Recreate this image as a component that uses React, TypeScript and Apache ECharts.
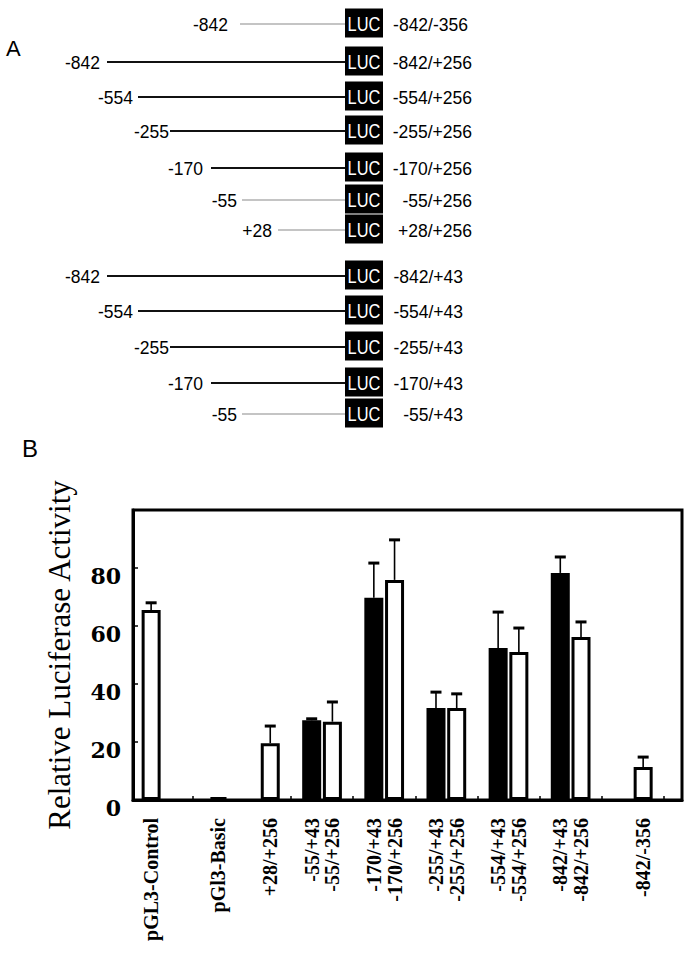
import React, { useEffect, useRef } from 'react';
import * as echarts from 'echarts';

// ---------- Panel A: constructs ----------
const constructStarts = ['-842', '-842', '-554', '-255', '-170', '-55', '+28', '-842', '-554', '-255', '-170', '-55'];
const constructNames = ['-842/-356', '-842/+256', '-554/+256', '-255/+256', '-170/+256', '-55/+256', '+28/+256', '-842/+43', '-554/+43', '-255/+43', '-170/+43', '-55/+43'];
const constructThin = [true, false, false, false, false, true, true, false, false, false, false, true];

// ---------- Panel B: luciferase activity ----------
const barLabels = ['pGL3-Control', 'pGl3-Basic', '+28/+256', '-55/+43', '-55/+256', '-170/+43', '-170/+256', '-255/+43', '-255/+256', '-554/+43', '-554/+256', '-842/+43', '-842/+256', '-842/-356'];
const barValues = [65.5, 1, 19.6, 27.5, 27, 69.7, 75.9, 31.7, 31.7, 52.4, 51, 78.3, 56.2, 11.4];
const barErrors = [2.5, 0, 5.9, 0.5, 6.8, 12, 13.8, 5.5, 4.9, 12.4, 8.3, 5.5, 5.2, 3.4];
const barFilled = [false, false, false, true, false, true, false, true, false, true, false, true, false, false];
const yTickLabels = ['0', '20', '40', '60', '80'];
const yTitle = 'Relative Luciferase Activity';

// ---------- layout (not data) ----------
const N_SLOTS = 106;
const barSlots = [3, 16, 26, 34, 38, 46, 50, 58, 62, 70, 74, 82, 86, 98];
const tickSlots = [11, 30, 42, 54, 66, 78, 90, 102];

const rowLineY = [24, 62, 97, 131, 168, 200, 230, 276, 311, 347, 383, 414];
const rowLineStart = [240, 107, 138, 170, 211, 242, 278, 107, 138, 170, 211, 242];
const rowLabelRight = [228, 100, 133, 169, 203, 237, 272, 100, 133, 169, 203, 237];
const rowNameRight = [468, 472, 472, 472, 472, 472, 472, 463, 463, 463, 463, 463];
const BOX_LEFT = 345;
const BOX_W = 38;
const BOX_H = 29;

function buildGraphic(): any[] {
  const els: any[] = [];
  const sans = 'Liberation Sans, Arial, sans-serif';
  els.push({
    type: 'text', left: 6, top: 37,
    style: { text: 'A', fontSize: 22, fontFamily: sans, fill: '#000' },
  });
  els.push({
    type: 'text', left: 22, top: 436,
    style: { text: 'B', fontSize: 24, fontFamily: sans, fill: '#000' },
  });
  constructNames.forEach((name, i) => {
    const y = rowLineY[i];
    const thin = constructThin[i];
    els.push({
      type: 'line',
      shape: { x1: rowLineStart[i], y1: y, x2: BOX_LEFT, y2: y },
      style: { stroke: thin ? '#b0b0b0' : '#111', lineWidth: thin ? 1.3 : 2.2 },
    });
    els.push({
      type: 'rect',
      shape: { x: BOX_LEFT, y: y - 1 - BOX_H / 2, width: BOX_W, height: BOX_H },
      style: { fill: '#000' },
    });
    els.push({
      type: 'text', x: BOX_LEFT + BOX_W / 2, y: y, scaleX: 0.78,
      style: {
        text: 'LUC', x: 0, y: 0, align: 'center', verticalAlign: 'middle',
        fontSize: 21, fontFamily: sans, fill: '#fff',
      },
    });
    els.push({
      type: 'text', x: rowLabelRight[i], y: y + 1,
      style: {
        text: constructStarts[i], align: 'right', verticalAlign: 'middle',
        fontSize: 17.5, fontFamily: sans, fill: '#000',
      },
    });
    els.push({
      type: 'text', x: rowNameRight[i], y: y + 1,
      style: {
        text: name, align: 'right', verticalAlign: 'middle',
        fontSize: 17.5, fontFamily: sans, fill: '#000',
      },
    });
  });
  return els;
}

function buildOption(): any {
  const categories = Array.from({ length: N_SLOTS }, (_, i) => {
    const j = barSlots.indexOf(i);
    return j >= 0 ? barLabels[j] : `_${i}`;
  });
  const blackData: any[] = Array(N_SLOTS).fill('-');
  const whiteData: any[] = Array(N_SLOTS).fill('-');
  barSlots.forEach((s, i) => {
    if (barFilled[i]) blackData[s] = barValues[i];
    else whiteData[s] = barValues[i];
  });
  const errData = barSlots.map((s, i) => [s, barValues[i], barErrors[i]]);

  return {
    animation: false,
    backgroundColor: '#fff',
    graphic: buildGraphic(),
    grid: {
      left: 133, top: 510, width: 549, height: 290,
      show: true, borderColor: '#000', borderWidth: 3, backgroundColor: 'transparent',
    },
    xAxis: {
      type: 'category',
      data: categories,
      axisLine: { show: true, lineStyle: { color: '#000', width: 3 } },
      axisTick: {
        show: true, inside: true, length: 4, alignWithLabel: true,
        interval: (idx: number) => tickSlots.includes(idx),
        lineStyle: { color: '#000', width: 1.5 },
      },
      axisLabel: {
        interval: (idx: number) => barSlots.includes(idx),
        rotate: 90, margin: 18,
        fontFamily: 'Liberation Serif, Times New Roman, serif',
        fontWeight: 'bold', fontSize: 20, color: '#000',
      },
      splitLine: { show: false },
    },
    yAxis: {
      type: 'value', min: 0, max: 100, interval: 20,
      name: yTitle, nameLocation: 'middle', nameGap: 58,
      nameTextStyle: {
        fontFamily: 'Liberation Serif, Times New Roman, serif',
        fontSize: 31, color: '#000',
      },
      axisLine: { show: true, lineStyle: { color: '#000', width: 3 } },
      axisTick: { show: true, inside: true, length: 5, lineStyle: { color: '#000', width: 1.5 } },
      axisLabel: {
        showMaxLabel: false,
        formatter: (v: number) => yTickLabels[Math.round(v / 20)] ?? '',
        margin: 12, verticalAlign: 'top', lineHeight: 16,
        fontFamily: 'DejaVu Serif, serif', fontWeight: 'bold', fontSize: 22, color: '#000',
      },
      splitLine: { show: false },
    },
    series: [
      {
        type: 'bar', data: blackData, barWidth: 19, barGap: '-100%',
        itemStyle: { color: '#000' }, silent: true,
      },
      {
        type: 'bar', data: whiteData, barWidth: 19, barGap: '-100%',
        itemStyle: { color: '#fff', borderColor: '#000', borderWidth: 3 }, silent: true,
      },
      {
        type: 'custom', data: errData, encode: { x: 0, y: 1 }, z: 5, silent: true,
        renderItem: (params: any, api: any) => {
          const x = api.value(0);
          const v = api.value(1);
          const e = api.value(2);
          if (!(e > 0)) return null;
          const base = api.coord([x, v]);
          const top = api.coord([x, v + e]);
          return {
            type: 'group',
            children: [
              {
                type: 'line',
                shape: { x1: top[0], y1: base[1], x2: top[0], y2: top[1] },
                style: { stroke: '#000', lineWidth: 1.6 },
              },
              {
                type: 'line',
                shape: { x1: top[0] - 5.5, y1: top[1], x2: top[0] + 5.5, y2: top[1] },
                style: { stroke: '#000', lineWidth: 3 },
              },
            ],
          };
        },
      },
    ],
  };
}

export default function App() {
  const ref = useRef<HTMLDivElement>(null);
  useEffect(() => {
    if (!ref.current) return;
    const chart = echarts.init(ref.current, null, { renderer: 'svg' });
    chart.setOption(buildOption());
    return () => chart.dispose();
  }, []);
  return (
    <div
      ref={ref}
      style={{ position: 'fixed', left: 0, top: 0, width: 692, height: 955, background: '#fff' }}
    />
  );
}
